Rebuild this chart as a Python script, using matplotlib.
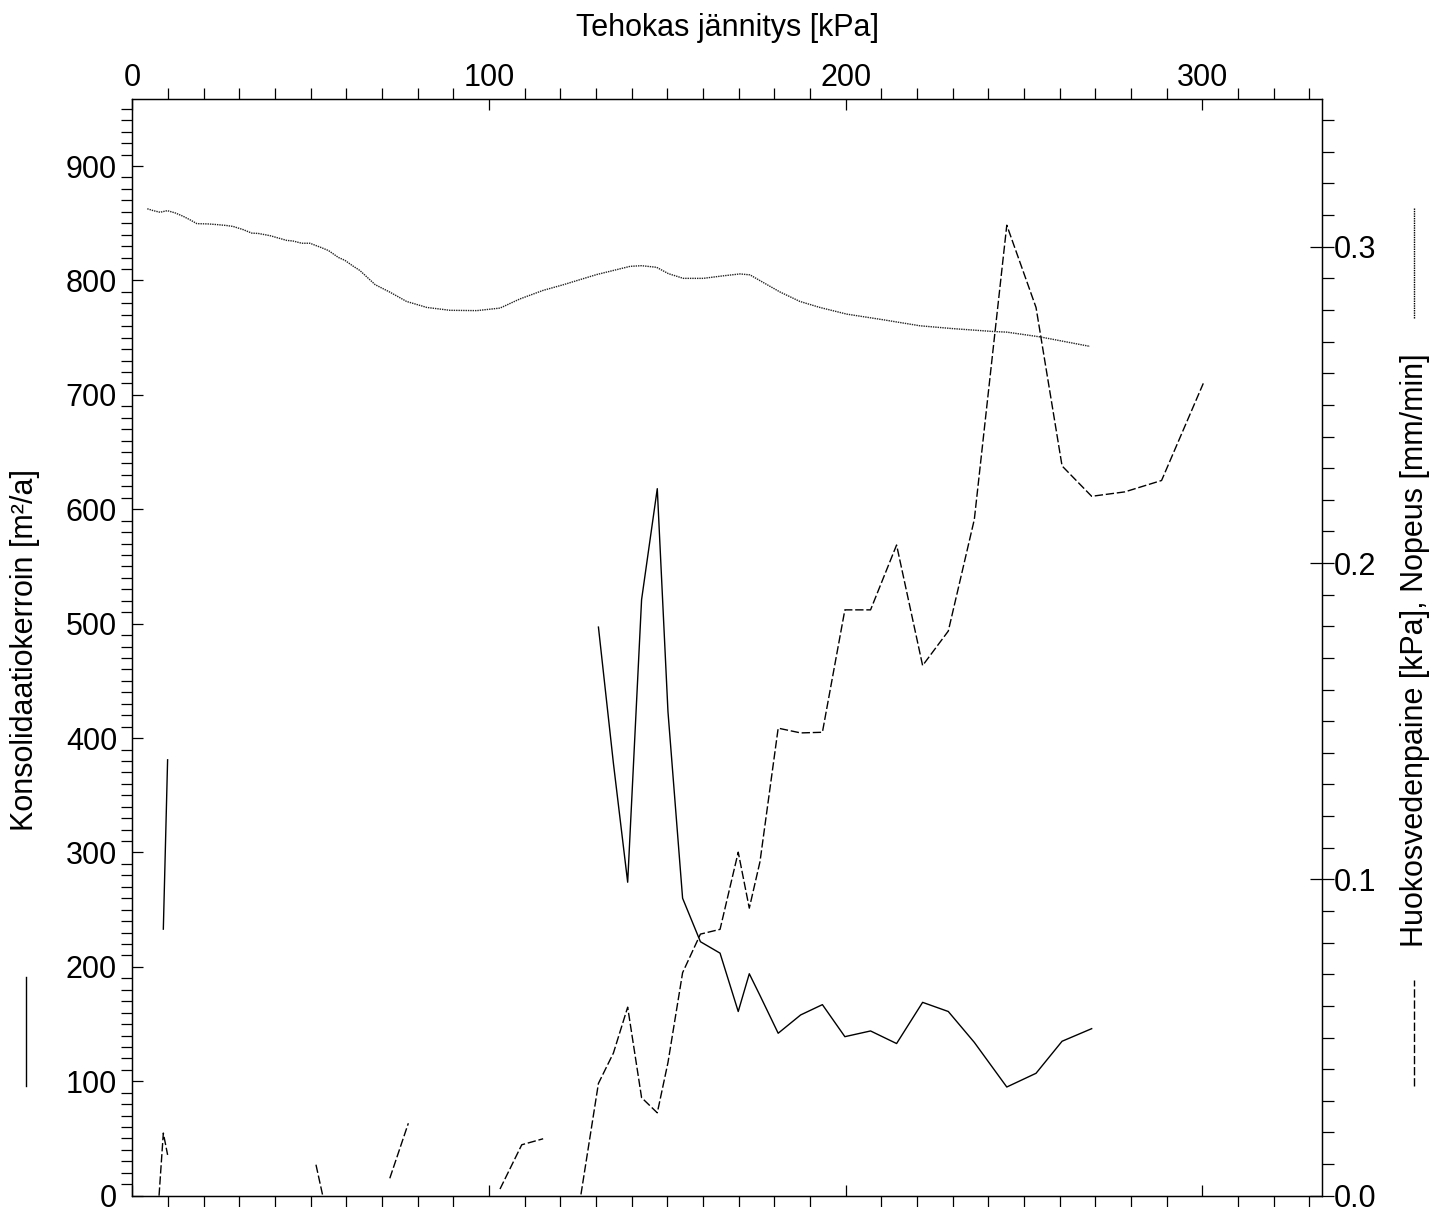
import numpy as np
import matplotlib
matplotlib.use("Agg")
import matplotlib.pyplot as plt
from matplotlib.ticker import MultipleLocator, FormatStrFormatter
from matplotlib.lines import Line2D

nan = np.nan

# Konsolidaatiokerroin (solid, left axis)
stress_cv = [8.7, 9.9, nan, 130.7, 134.9, 138.9, 142.8, 147.2, 150.2, 154.3, 159.3, 164.8,
             169.9, 173.0, 176.0, 181.1, 187.4, 193.5, 199.8, 207.0, 214.3, 221.6, 228.8,
             236.1, 245.2, 253.4, 260.7, 269.0]
cv = [233, 381, nan, 497, 378, 274, 521, 618, 423, 260, 222, 212,
      161, 194, 175, 142, 158, 167, 139, 144, 133, 169, 161,
      134, 95, 107, 135, 146]

# Huokosvedenpaine (dashed, right axis)
stress_u = [7.5, 8.7, 9.9, nan, 51.5, 53.4, nan, 72.2, 77.4, nan, 103.1, 109.2, 115.2, nan,
            125.8, 130.7, 134.9, 138.9, 142.8, 147.2, 150.2, 154.3, 159.3, 164.8, 169.9,
            173.0, 176.0, 181.1, 187.4, 193.5, 199.8, 207.0, 214.3, 221.6, 228.8, 236.1,
            245.2, 253.4, 260.7, 269.0, 278.3, 288.6, 300.3]
pore = [0.0, 0.0198, 0.0129, nan, 0.0098, 0.0, nan, 0.0055, 0.0229, nan, 0.0021, 0.0161, 0.0180, nan,
        0.0004, 0.0355, 0.0451, 0.0596, 0.0310, 0.0262, 0.0421, 0.0705, 0.0827, 0.0842, 0.1086,
        0.0909, 0.1056, 0.1478, 0.1463, 0.1465, 0.1852, 0.1852, 0.2057, 0.1676, 0.1785, 0.2138,
        0.3068, 0.2808, 0.2307, 0.2211, 0.2225, 0.2261, 0.2568]

# Nopeus (dotted, right axis)
stress_v = [4.2, 5.9, 7.8, 9.8, 12.0, 14.3, 16.2, 18.1, 21.3, 23.7, 26.5, 28.3, 31.1, 33.5,
            35.3, 38.6, 43.3, 45.1, 47.5, 49.8, 52.6, 55.0, 57.8, 59.6, 62.0, 63.8, 68.1,
            72.3, 76.9, 82.6, 89.1, 96.6, 103.1, 108.7, 115.2, 120.9, 130.2, 134.9, 139.6,
            142.8, 147.0, 150.3, 154.5, 160.1, 165.7, 170.4, 173.2, 176.9, 181.6, 187.2,
            192.8, 200.3, 210.6, 220.9, 230.2, 241.4, 245.2, 254.5, 268.5]
speed = [0.3120, 0.3114, 0.3109, 0.3114, 0.3107, 0.3096, 0.3085, 0.3073, 0.3072, 0.3070,
         0.3067, 0.3064, 0.3054, 0.3043, 0.3042, 0.3035, 0.3020, 0.3018, 0.3011, 0.3011,
         0.2999, 0.2988, 0.2966, 0.2957, 0.2938, 0.2925, 0.2880, 0.2856, 0.2827, 0.2808,
         0.2799, 0.2798, 0.2806, 0.2835, 0.2862, 0.2880, 0.2912, 0.2925, 0.2938, 0.2940,
         0.2935, 0.2915, 0.2900, 0.2900, 0.2908, 0.2914, 0.2911, 0.2887, 0.2857, 0.2827,
         0.2808, 0.2787, 0.2769, 0.2750, 0.2741, 0.2732, 0.2730, 0.2715, 0.2685]

x_label = "Tehokas jännitys [kPa]"
left_label = "Konsolidaatiokerroin [m²/a]"
right_label = "Huokosvedenpaine [kPa], Nopeus [mm/min]"

plt.rcParams['font.family'] = ['Liberation Sans', 'DejaVu Sans']
FS = 22

W, H = 1442, 1207
fig = plt.figure(figsize=(W / 100, H / 100), dpi=100)
l, r, b, t = 132.3, 1321.7, 1195.7, 99.0
ax = fig.add_axes([l / W, (H - b) / H, (r - l) / W, (b - t) / H])
ax2 = ax.twinx()

ax.plot(stress_cv, cv, color='black', lw=1.0, ls='-')
ax2.plot(stress_u, pore, color='black', lw=1.0, ls=(0, (6, 2)))
ax2.plot(stress_v, speed, color='#222222', lw=1.0, ls=(0, (1, 0.7)))

ax.set_xlim(0, 333.5)
ax.set_ylim(0, 958.6)
ax2.set_ylim(0, 0.3467)

for a in (ax, ax2):
    for s in a.spines.values():
        s.set_linewidth(0.9)
        s.set_color('black')

ax.xaxis.set_major_locator(MultipleLocator(100))
ax.xaxis.set_minor_locator(MultipleLocator(10))
ax.yaxis.set_major_locator(MultipleLocator(100))
ax.yaxis.set_minor_locator(MultipleLocator(10))
ax2.yaxis.set_major_locator(MultipleLocator(0.1))
ax2.yaxis.set_minor_locator(MultipleLocator(0.01))
ax2.yaxis.set_major_formatter(FormatStrFormatter('%.1f'))

ax.tick_params(axis='x', which='both', top=True, bottom=True, labeltop=True, labelbottom=False)
ax.tick_params(axis='both', which='major', direction='in', length=8.2, width=0.9,
               labelsize=FS, colors='black')
ax.tick_params(axis='both', which='minor', direction='out', length=7.9, width=0.9)
ax.tick_params(axis='x', which='major', pad=4.0)
ax.tick_params(axis='y', which='major', pad=11)
ax2.tick_params(axis='y', which='major', direction='inout', length=17, width=0.9,
                labelsize=FS, pad=0.5)
ax2.tick_params(axis='y', which='minor', direction='out', length=8.5, width=0.9)

# axis titles
fig.text(727 / W, 1 - 28 / H, x_label, ha='center', va='center', fontsize=FS)
fig.text(25 / W, 1 - 650 / H, left_label, ha='center', va='center', rotation=90, fontsize=FS)
fig.text(1415 / W, 1 - 650 / H, right_label, ha='center', va='center', rotation=90, fontsize=FS)

# line-style keys beside the axis titles
fig.add_artist(Line2D([25.7 / W, 25.7 / W], [1 - 1086 / H, 1 - 977 / H], color='black',
                      lw=1.0, transform=fig.transFigure))
fig.add_artist(Line2D([1414.3 / W, 1414.3 / W], [1 - 318 / H, 1 - 208 / H], color='black',
                      lw=1.0, ls=(0, (1, 0.7)), transform=fig.transFigure))
fig.add_artist(Line2D([1414.3 / W, 1414.3 / W], [1 - 1086 / H, 1 - 980 / H], color='black',
                      lw=1.0, ls=(0, (6, 2)), transform=fig.transFigure))

fig.savefig("out.png", dpi=100)
